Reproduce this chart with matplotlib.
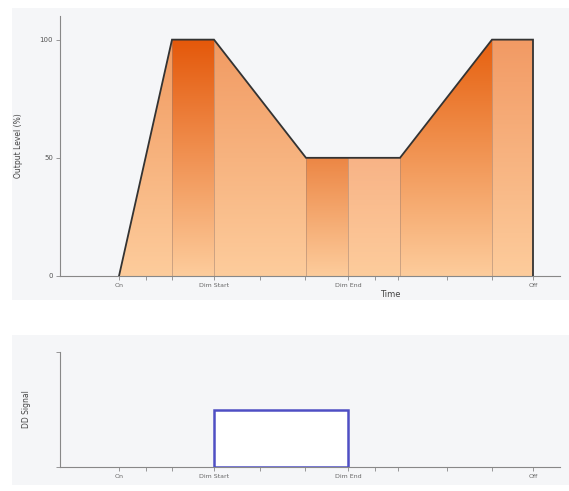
import numpy as np
import matplotlib
matplotlib.use('Agg')
import matplotlib.pyplot as plt
from matplotlib.patches import Polygon, Rectangle
from matplotlib.colors import LinearSegmentedColormap

# profile points (time, output level %)
times = [5.9, 11.2, 15.4, 24.6, 28.8, 34.0, 43.2, 47.3]
levels = [0, 100, 100, 50, 50, 50, 100, 100]
seg_tops = ['#f19a60', '#e4580a', '#f19a62', '#ec8644', '#f8b386', '#e6600f', '#f29a64']
seg_bottom = '#fdcc9c'

major_pos = [5.9, 15.4, 28.8, 47.3]
major_lbl = ['On', 'Dim Start', 'Dim End', 'Off']
minor_pos = [8.6, 11.2, 20.0, 24.5, 31.5, 33.8, 38.7, 43.2]

dd_start, dd_end, dd_level = 15.4, 28.8, 0.5

fig = plt.figure(figsize=(5.69, 4.91), dpi=100)
panel = '#f5f6f8'
fig.patches.append(Rectangle((12/569, 191/491), 557/569, 292/491, transform=fig.transFigure,
                             fc=panel, ec='none', zorder=-10))
fig.patches.append(Rectangle((12/569, 6/491), 557/569, 150/491, transform=fig.transFigure,
                             fc=panel, ec='none', zorder=-10))

ax = fig.add_axes([60/569, 215/491, 500/569, 260/491])
ax2 = fig.add_axes([60/569, 24/491, 500/569, 115/491])

for a in (ax, ax2):
    a.set_facecolor('none')
    for s in ('top', 'right'):
        a.spines[s].set_visible(False)
    a.spines['left'].set_color('#888888')
    a.spines['bottom'].set_color('#888888')
    a.spines['left'].set_linewidth(0.8)
    a.spines['bottom'].set_linewidth(0.8)
    a.set_xlim(0, 50)
    a.set_xticks(major_pos)
    a.set_xticklabels(major_lbl)
    a.set_xticks(minor_pos, minor=True)
    a.tick_params(axis='x', which='both', length=3, width=0.6, color='#888888',
                  labelsize=4.5, labelcolor='#666666', pad=2)
    a.tick_params(axis='y', length=3, width=0.6, color='#888888',
                  labelsize=5, labelcolor='#555555', pad=2)

# gradient filled segments
for i in range(len(times) - 1):
    x0, x1 = times[i], times[i + 1]
    y0, y1 = levels[i], levels[i + 1]
    poly = Polygon([(x0, 0), (x0, y0), (x1, y1), (x1, 0)], closed=True, fc='none', ec='none')
    ax.add_patch(poly)
    cmap = LinearSegmentedColormap.from_list('g%d' % i, [seg_bottom, seg_tops[i]])
    img = ax.imshow(np.linspace(0, 1, 256).reshape(-1, 1), cmap=cmap, origin='lower',
                    extent=(x0, x1, 0, max(y0, y1)), aspect='auto', zorder=1)
    img.set_clip_path(poly)
    if i > 0:
        ax.plot([x0, x0], [0, y0], color='#a08070', lw=0.6, alpha=0.6, zorder=2)

ax.plot(times + [times[-1]], levels + [0], color='#333333', lw=1.3, zorder=3,
        solid_joinstyle='miter')
ax.set_xlim(0, 50)
ax.set_ylim(0, 110)
ax.set_yticks([0, 50, 100])
ax.set_ylabel('Output Level (%)', fontsize=5.5, color='#444444', labelpad=12)
ax.set_xlabel('Time', fontsize=6, color='#444444', labelpad=1)
ax.xaxis.set_label_coords(0.66, -0.055)

# DD signal
ax2.add_patch(Rectangle((dd_start, 0), dd_end - dd_start, dd_level, fc='white',
                        ec='#4f4fc4', lw=1.8, zorder=3))
ax2.set_ylim(0, 1)
ax2.set_yticks([0, 1])
ax2.set_yticklabels(['', ''])
ax2.set_ylabel('DD Signal', fontsize=5.5, color='#444444', labelpad=16)

fig.savefig('out.png', dpi=100)
